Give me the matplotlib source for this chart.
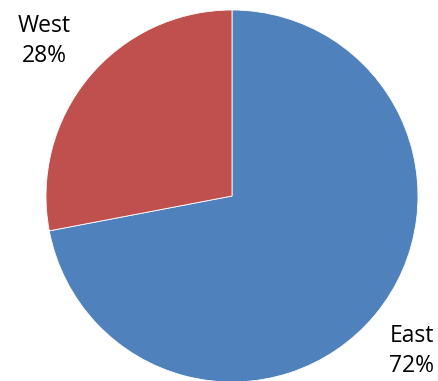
import matplotlib.pyplot as plt

labels = ["East", "West"]
shares = [72, 28]
colors = ["#4F81BD", "#C0504D"]

W, H = 438, 381
cx, cy, r = 232, 196, 186

fig = plt.figure(figsize=(W / 100, H / 100), dpi=100)
ax = fig.add_axes([0, 0, 1, 1])
ax.pie(shares, colors=colors, startangle=90, counterclock=False,
       radius=1, wedgeprops=dict(edgecolor="white", linewidth=0.6))
ax.set_xlim(-cx / r, (W - cx) / r)
ax.set_ylim((cy - H) / r, cy / r)
ax.set_aspect("auto")
ax.axis("off")


def px(x, y):
    return (x - cx) / r, (cy - y) / r


font = dict(family=["Open Sans", "DejaVu Sans"], fontsize=16.5, color="black",
            ha="center", va="center", linespacing=1.3)
ax.text(*px(44, 41), "%s\n%d%%" % (labels[1], shares[1]), **font)
ax.text(*px(412, 351), "%s\n%d%%" % (labels[0], shares[0]), **font)

fig.savefig("out.png", dpi=100)
